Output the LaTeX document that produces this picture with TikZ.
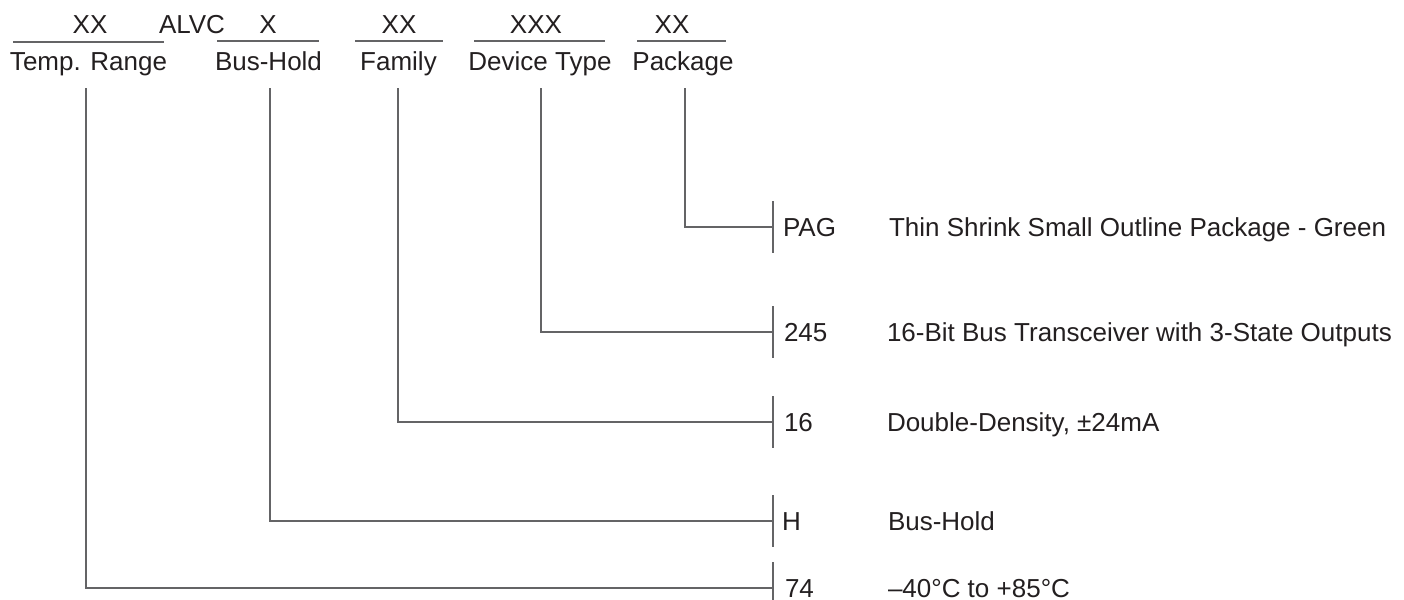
\documentclass[tikz,border=0pt]{standalone}
\usepackage{fontspec}
\setmainfont{Liberation Sans}
\definecolor{txt}{RGB}{35,31,32}
\definecolor{ln}{RGB}{100,100,102}
\begin{document}
\begin{tikzpicture}[x=0.75pt,y=-0.75pt,
  lbl/.style={inner sep=0pt,outer sep=0pt,text=txt,font=\fontsize{19.5pt}{22pt}\selectfont},
  conn/.style={draw=ln,line width=1.1pt},
  uline/.style={draw=ln,line width=1.1pt},
  barline/.style={draw=ln,line width=1.1pt}]
\useasboundingbox (0,0) rectangle (1404,600);
% top row of code fields
\node[lbl,anchor=base] (xx1) at (90,33) {XX};
\node[lbl,anchor=base west] (alvc) at (159,33) {ALVC};
\node[lbl,anchor=base] (x1) at (268,33) {X};
\node[lbl,anchor=base] (xx2) at (399,33) {XX};
\node[lbl,anchor=base] (xxx) at (536,33) {XXX};
\node[lbl,anchor=base] (xx3) at (672,33) {XX};
% underlines
\draw[uline] (13,42) -- (164,42);
\draw[uline] (217,41) -- (319,41);
\draw[uline] (355,41) -- (443,41);
\draw[uline] (474,41) -- (605,41);
\draw[uline] (637,41) -- (726,41);
% field labels
\node[lbl,anchor=base west] (temp) at (10,70) {Temp. Range};
\node[lbl,anchor=base] (bh) at (268.5,70) {Bus-Hold};
\node[lbl,anchor=base] (fam) at (398.5,70) {Family};
\node[lbl,anchor=base] (dev) at (540,70) {Device Type};
\node[lbl,anchor=base] (pkg) at (683,70) {Package};
% connector start points
\coordinate (t1) at (86,88);
\coordinate (t2) at (270,88);
\coordinate (t3) at (398,88);
\coordinate (t4) at (541,88);
\coordinate (t5) at (685,88);
% bar points
\coordinate (r5) at (773,227);
\coordinate (r4) at (773,332);
\coordinate (r3) at (773,422);
\coordinate (r2) at (773,521);
\coordinate (r1) at (773,588);
\foreach \r in {r1,r2,r3,r4,r5}{
  \draw[barline] ([yshift=26*0.75pt]\r) -- ([yshift=-26*0.75pt]\r);
}
% connectors
\draw[conn] (t5) |- (r5);
\draw[conn] (t4) |- (r4);
\draw[conn] (t3) |- (r3);
\draw[conn] (t2) |- (r2);
\draw[conn] (t1) |- (r1);
% codes and descriptions
\node[lbl,anchor=base west] (c5) at (783,236.5) {PAG};
\node[lbl,anchor=base west] (d5) at (889,236.5) {Thin Shrink Small Outline Package - Green};
\node[lbl,anchor=base west] (c4) at (784,341.5) {245};
\node[lbl,anchor=base west] (d4) at (887,341.5) {16-Bit Bus Transceiver with 3-State Outputs};
\node[lbl,anchor=base west] (c3) at (784,431.5) {16};
\node[lbl,anchor=base west] (d3) at (887,431.5) {Double-Density, ±24mA};
\node[lbl,anchor=base west] (c2) at (782,530.5) {H};
\node[lbl,anchor=base west] (d2) at (888,530.5) {Bus-Hold};
\node[lbl,anchor=base west] (c1) at (785,597.5) {74};
\node[lbl,anchor=base west] (d1) at (888,597.5) {–40°C to +85°C};
\end{tikzpicture}
\end{document}
